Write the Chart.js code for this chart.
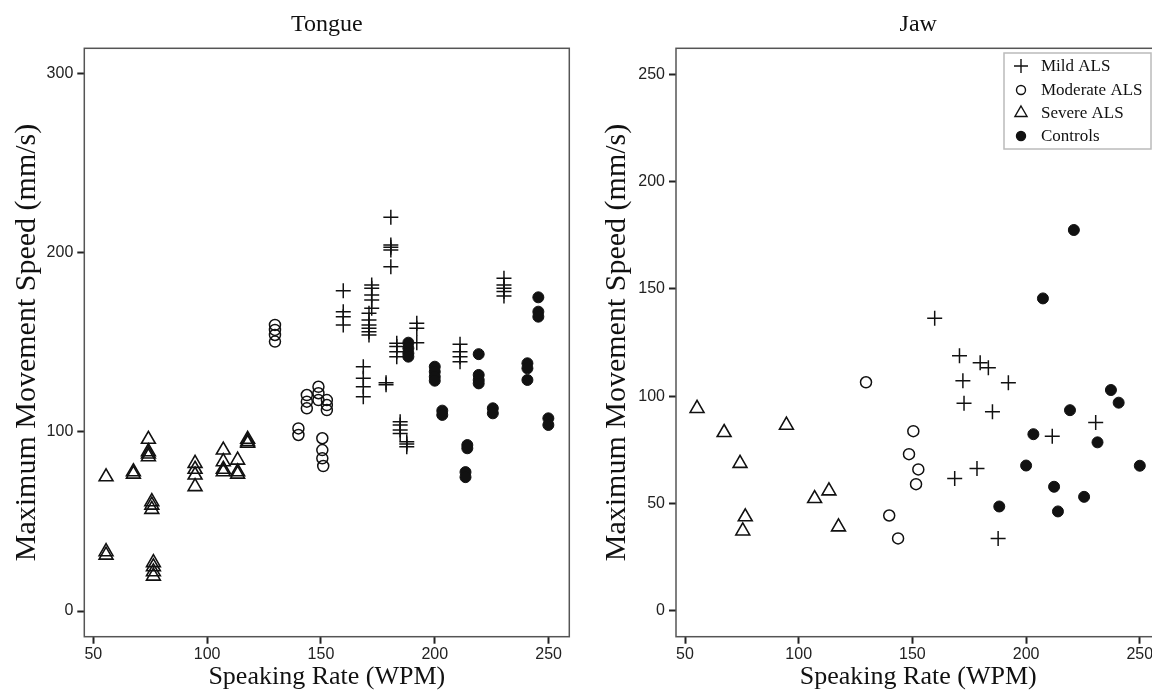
<!DOCTYPE html>
<html>
<head>
<meta charset="utf-8">
<script src="https://cdn.jsdelivr.net/npm/chart.js@4.4.1/dist/chart.umd.min.js"></script>
<style>
  html, body { margin: 0; padding: 0; background: #fff; width: 1152px; height: 699px; overflow: hidden; }
  .panel { position: absolute; top: 0; height: 699px; }
  #tonguePanel { left: 0; width: 580px; }
  #jawPanel { left: 580px; width: 600px; }
</style>
</head>
<body>
<div class="panel" id="tonguePanel"><canvas id="tongueChart"></canvas></div>
<div class="panel" id="jawPanel"><canvas id="jawChart"></canvas></div>
<script>
// ---- data (speaking rate in WPM, max movement speed in mm/s) ----
const groupNames = ['Mild ALS', 'Moderate ALS', 'Severe ALS', 'Controls'];
const xTicks = [50, 100, 150, 200, 250];
const tongueYTicks = [0, 100, 200, 300];
const jawYTicks = [0, 50, 100, 150, 200, 250];

const tongueMild = [
    [180.7, 219.7], [180.7, 204.2], [180.7, 202.9], [180.7, 201.4], [180.7, 192.1],
    [159.8, 178.7], [159.8, 167.0], [159.8, 164.2], [159.8, 159.6],
    [172.3, 181.9], [172.3, 180.0], [172.3, 176.3], [172.3, 173.5], [172.3, 168.9],
    [171.1, 166.1], [171.1, 162.4], [171.1, 159.6], [171.1, 157.7], [171.1, 155.8], [171.1, 154.0],
    [183.3, 149.4], [183.3, 147.5], [183.3, 144.7], [183.3, 141.9],
    [192.1, 160.5], [192.1, 157.7], [192.1, 149.7],
    [168.6, 136.3], [168.6, 129.8], [168.6, 125.1], [168.6, 119.6],
    [178.6, 127.4], [178.6, 126.3],
    [211.1, 148.8], [211.1, 144.7], [211.1, 141.9], [211.1, 139.1],
    [230.4, 185.6], [230.4, 181.9], [230.4, 180.0], [230.4, 178.2], [230.4, 175.8],
    [184.8, 105.6], [184.8, 103.8], [184.8, 101.0], [184.8, 99.1],
    [187.7, 94.5], [187.7, 93.2], [187.7, 91.7]
];
const tongueModerate = [
    [129.8, 159.6], [129.8, 156.8], [129.8, 154.0], [129.8, 150.3],
    [143.8, 120.5], [143.8, 116.8], [143.8, 113.1],
    [148.9, 125.1], [148.9, 121.5], [148.9, 117.7],
    [152.6, 117.7], [152.6, 114.9], [152.6, 112.1],
    [140.1, 101.9], [140.1, 98.2],
    [150.6, 96.4], [150.6, 89.8], [150.6, 85.2], [151.0, 80.9]
];
const tongueSevere = [
    [55.6, 74.9], [55.6, 33.1], [55.6, 31.2],
    [67.6, 77.7], [67.6, 76.4],
    [74.2, 95.8], [74.2, 88.9], [74.2, 87.6], [74.2, 86.1],
    [75.7, 61.0], [75.7, 59.1], [75.7, 56.7],
    [76.4, 27.0], [76.4, 24.7], [76.4, 21.9], [76.4, 19.5],
    [94.7, 82.4], [94.7, 79.1], [94.7, 75.9], [94.7, 69.4],
    [107.1, 89.8], [107.1, 83.3], [107.1, 79.1], [107.1, 77.7],
    [113.4, 84.2], [113.4, 77.7], [113.4, 76.4],
    [117.8, 95.8], [117.8, 94.5], [117.8, 93.6]
];
const tongueControls = [
    [188.4, 149.7], [188.4, 146.6], [188.4, 143.8], [188.4, 141.9],
    [200.0, 136.3], [200.0, 133.5], [200.0, 130.7], [200.0, 128.5],
    [203.3, 111.8], [203.3, 109.4],
    [219.3, 143.3], [219.3, 131.7], [219.3, 128.9], [219.3, 127.0],
    [225.5, 113.1], [225.5, 110.3],
    [214.3, 92.6], [214.3, 90.8], [213.5, 77.5], [213.5, 74.7],
    [240.7, 138.2], [240.7, 135.4], [240.7, 128.9],
    [245.5, 175.0], [245.5, 167.0], [245.5, 164.2],
    [249.9, 107.5], [249.9, 103.8]
];

const jawMild = [
    [159.8, 136.3], [170.7, 118.9], [172.2, 107.2], [172.7, 96.7], [179.8, 115.6],
    [183.4, 113.3], [192.2, 106.3], [185.2, 92.8], [168.6, 61.7], [178.4, 66.3],
    [187.7, 33.7], [211.5, 81.4], [230.6, 87.8]
];
const jawModerate = [
    [129.6, 106.5], [150.4, 83.7], [148.5, 73.0], [152.6, 65.9], [151.6, 59.0],
    [139.8, 44.4], [143.7, 33.7]
];
const jawSevere = [
    [55.3, 94.3], [67.2, 83.1], [74.2, 68.7], [76.5, 43.8], [75.4, 37.2],
    [94.6, 86.5], [107.0, 52.3], [113.3, 55.9], [117.5, 39.1]
];
const jawControls = [
    [207.4, 145.6], [221.0, 177.5], [203.2, 82.3], [200.0, 67.7], [219.3, 93.5],
    [237.3, 102.9], [240.7, 97.0], [231.4, 78.5], [250.0, 67.6], [188.2, 48.6],
    [212.3, 57.8], [214.0, 46.3], [225.5, 53.1]
];

// ---- styling ----
const SERIF = "'Liberation Serif', 'Times New Roman', serif";
const SANS = "'Liberation Sans', Arial, sans-serif";
const INK = '#111';

const markerStyles = [
    { pointStyle: 'cross', pointRadius: 7.5, backgroundColor: 'rgba(0,0,0,0)', borderWidth: 1.5 },
    { pointStyle: 'circle', pointRadius: 5.5, backgroundColor: 'rgba(0,0,0,0)', borderWidth: 1.5 },
    { pointStyle: 'triangle', pointRadius: 8, backgroundColor: 'rgba(0,0,0,0)', borderWidth: 1.6 },
    { pointStyle: 'circle', pointRadius: 5.5, backgroundColor: INK, borderWidth: 1 }
];

function toPoints(pairs) {
    return pairs.map(p => ({ x: p[0], y: p[1] }));
}

// frame + panel title drawn around the chart area
const framePlugin = {
    id: 'frame',
    afterDraw(chart, args, opts) {
        const { ctx, chartArea: a } = chart;
        ctx.save();
        ctx.strokeStyle = '#555';
        ctx.lineWidth = 1.5;
        ctx.strokeRect(a.left, a.top, a.right - a.left, a.bottom - a.top);
        ctx.fillStyle = INK;
        ctx.font = '24px ' + SERIF;
        ctx.textAlign = 'center';
        ctx.textBaseline = 'middle';
        ctx.fillText(opts.title, (a.left + a.right) / 2, 25);
        ctx.restore();
    }
};

// legend box in the top right of the Jaw panel
const legendPlugin = {
    id: 'groupLegend',
    afterDraw(chart, args, opts) {
        if (!opts.show) return;
        const ctx = chart.ctx;
        const boxX = 424, boxY = 53, boxW = 147, boxH = 96;
        ctx.save();
        ctx.fillStyle = '#fff';
        ctx.fillRect(boxX, boxY, boxW, boxH);
        ctx.strokeStyle = '#bbb';
        ctx.lineWidth = 1.5;
        ctx.strokeRect(boxX, boxY, boxW, boxH);
        const rows = [66, 90, 113, 136];
        const sizes = [7, 4.5, 7, 4.5];
        groupNames.forEach((name, i) => {
            const m = markerStyles[i];
            ctx.strokeStyle = INK;
            ctx.fillStyle = m.backgroundColor;
            ctx.lineWidth = 1.4;
            Chart.helpers.drawPoint(ctx, { pointStyle: m.pointStyle, radius: sizes[i], borderWidth: 1.4, rotation: 0 }, boxX + 17, rows[i]);
            ctx.fillStyle = INK;
            ctx.font = '17px ' + SERIF;
            ctx.textAlign = 'left';
            ctx.textBaseline = 'middle';
            ctx.fillText(name, boxX + 37, rows[i] + 1);
        });
        ctx.restore();
    }
};

function makePanel(canvasId, cfg) {
    const series = cfg.series;
    new Chart(document.getElementById(canvasId), {
        type: 'scatter',
        data: {
            datasets: series.map((pairs, i) => Object.assign({
                label: groupNames[i],
                data: toPoints(pairs),
                borderColor: INK
            }, markerStyles[i]))
        },
        options: {
            responsive: true,
            maintainAspectRatio: false,
            animation: false,
            events: [],
            layout: { padding: { left: 0, top: 48.3, right: cfg.padRight, bottom: 0 } },
            scales: {
                x: {
                    type: 'linear',
                    min: 46.04,
                    max: 259.1,
                    afterBuildTicks: axis => { axis.ticks = xTicks.map(v => ({ value: v })); },
                    afterFit: axis => { axis.height = 62.3; },
                    border: { display: false },
                    grid: { drawOnChartArea: false, drawTicks: true, tickLength: 7, tickWidth: 2, tickColor: '#222' },
                    ticks: { font: { family: SANS, size: 16 }, color: '#222', padding: 1, maxRotation: 0 },
                    title: { display: true, text: 'Speaking Rate (WPM)', font: { family: SERIF, size: 26 }, color: INK, padding: { top: 0, bottom: 6 } }
                },
                y: {
                    type: 'linear',
                    min: cfg.yMin,
                    max: cfg.yMax,
                    afterBuildTicks: axis => { axis.ticks = cfg.yTicks.map(v => ({ value: v })); },
                    afterFit: axis => { axis.width = cfg.axisWidth; },
                    border: { display: false },
                    grid: { drawOnChartArea: false, drawTicks: true, tickLength: 7, tickWidth: 2, tickColor: '#222' },
                    ticks: { font: { family: SANS, size: 16 }, color: '#222', padding: 4 },
                    title: { display: true, text: 'Maximum Movement Speed (mm/s)', font: { family: SERIF, size: 30 }, color: INK, padding: { top: cfg.yTitlePad, bottom: 0 } }
                }
            },
            plugins: {
                legend: { display: false },
                tooltip: { enabled: false },
                frame: { title: cfg.title },
                groupLegend: { show: cfg.legend }
            }
        },
        plugins: [framePlugin, legendPlugin]
    });
}

makePanel('tongueChart', {
    title: 'Tongue',
    series: [tongueMild, tongueModerate, tongueSevere, tongueControls],
    yMin: -14.3, yMax: 313.9, yTicks: tongueYTicks,
    axisWidth: 84.3, padRight: 10.7, yTitlePad: 9, legend: false
});

makePanel('jawChart', {
    title: 'Jaw',
    series: [jawMild, jawModerate, jawSevere, jawControls],
    yMin: -12.1, yMax: 262.2, yTicks: jawYTicks,
    axisWidth: 96, padRight: 19.5, yTitlePad: 19, legend: true
});
</script>
</body>
</html>
